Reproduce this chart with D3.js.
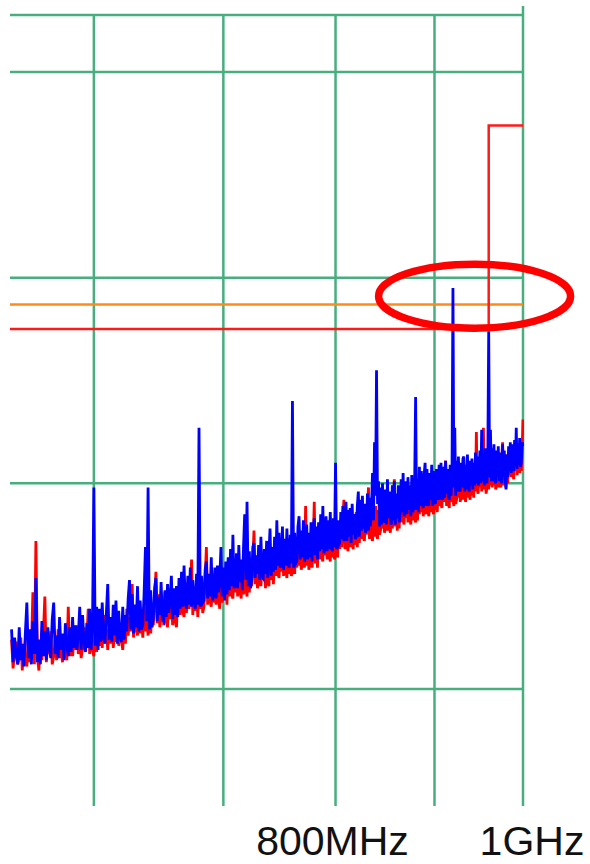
<!DOCTYPE html>
<html>
<head>
<meta charset="utf-8">
<script src="https://cdn.jsdelivr.net/npm/d3@7"></script>
<style>
  html, body { margin: 0; padding: 0; background: #ffffff; }
  svg { display: block; }
</style>
</head>
<body>
<svg id="chart" width="590" height="864"></svg>
<script>
// Frequency grid (MHz) and level grid (dBuV)
const gridFreqs = [600, 700, 800, 900, 1000];
const gridLevels = [20, 30, 40, 50];
const tickFreqs = [800, 1000];
const tickTexts = ["800MHz", "1GHz"];

// Limit line (red) and margin line (orange)
const limitFreqs = [543, 960, 960, 1000];
const limitLevels = [37.5, 37.5, 47.4, 47.4];
const marginFreqs = [543, 1000];
const marginLevels = [38.7, 38.7];

// Sweep: 544 MHz .. 1000 MHz in 1 MHz steps
const sweepStart = 544;
const sweepStep = 1;

// Measured trace (blue), dBuV per sweep point, 20 points per row
const blueTrace = [
  22.9, 21.3, 22.5, 21.6, 21.2, 23.0, 21.4, 22.2, 21.1, 22.7, 24.2, 21.5, 22.9, 21.2, 23.3, 21.7, 25.4, 21.3, 22.4, 21.2,
  23.3, 21.6, 22.8, 21.4, 23.0, 22.0, 21.5, 23.4, 24.2, 21.7, 22.6, 21.5, 23.5, 21.9, 22.7, 21.4, 23.2, 22.1, 21.6, 23.0,
  21.8, 23.5, 22.0, 23.1, 21.9, 22.6, 24.0, 21.9, 23.6, 22.3, 21.8, 23.2, 22.0, 23.9, 21.9, 22.9, 29.8, 22.1, 24.0, 21.9,
  23.9, 22.3, 24.2, 22.5, 22.2, 23.7, 25.1, 22.4, 23.5, 22.3, 24.1, 22.6, 24.3, 22.2, 23.8, 22.5, 22.3, 24.0, 22.4, 23.6,
  22.8, 24.4, 25.3, 22.9, 24.6, 22.7, 24.1, 23.0, 25.0, 22.8, 24.3, 22.9, 23.1, 24.7, 26.9, 23.3, 29.8, 22.9, 24.8, 23.0,
  23.4, 24.9, 25.4, 23.3, 24.5, 23.6, 25.2, 23.4, 23.3, 24.8, 23.5, 25.1, 23.7, 24.4, 25.5, 23.4, 24.9, 23.6, 25.0, 23.5,
  25.4, 23.9, 25.7, 24.0, 26.0, 24.2, 23.9, 25.5, 24.1, 25.9, 24.0, 25.3, 24.3, 23.9, 25.6, 24.1, 32.7, 24.0, 25.5, 24.2,
  24.3, 25.8, 26.2, 24.4, 25.6, 24.5, 26.4, 24.3, 24.6, 25.9, 24.4, 26.0, 24.7, 25.4, 26.9, 24.5, 25.9, 24.3, 26.2, 24.6,
  26.4, 24.8, 26.8, 25.0, 27.5, 24.9, 25.1, 26.6, 24.9, 27.0, 25.2, 26.3, 24.8, 26.9, 28.5, 25.3, 29.1, 25.0, 26.7, 24.9,
  25.3, 26.9, 27.1, 25.4, 26.5, 25.6, 27.0, 25.3, 27.4, 25.5, 25.4, 26.8, 25.6, 27.2, 25.4, 26.6, 27.8, 25.5, 26.9, 25.7,
  27.4, 25.8, 28.2, 26.0, 27.6, 25.9, 26.1, 27.9, 25.8, 27.3, 26.0, 27.8, 26.2, 25.9, 27.5, 26.1, 34.0, 25.9, 27.6, 26.1,
  26.2, 27.9, 28.4, 26.3, 27.7, 26.4, 28.2, 26.2, 26.5, 28.0, 26.3, 27.6, 26.4, 28.1, 26.2, 27.8, 28.3, 26.5, 27.9, 26.3,
  28.1, 26.7, 28.5, 26.8, 28.9, 26.6, 26.9, 28.4, 26.7, 28.2, 26.8, 28.6, 27.0, 26.7, 28.3, 26.9, 31.0, 26.8, 28.2, 27.0,
  27.1, 28.6, 27.3, 28.9, 27.2, 27.4, 29.1, 27.2, 28.7, 27.4, 28.8, 27.1, 29.0, 27.5, 28.5, 27.3, 27.4, 28.9, 29.6, 27.4,
  29.2, 27.7, 29.4, 27.8, 29.0, 27.6, 27.9, 29.5, 27.7, 29.3, 27.9, 28.9, 30.5, 28.2, 32.0, 29.4, 35.5, 29.0, 30.1, 27.9,
  29.8, 28.0, 30.0, 28.1, 28.2, 29.7, 28.0, 30.2, 28.3, 29.6, 28.1, 28.0, 29.9, 28.2, 30.1, 28.0, 29.5, 28.3, 29.9, 28.1,
  28.5, 30.2, 28.6, 30.5, 28.4, 28.7, 30.1, 28.5, 30.3, 28.7, 29.9, 28.4, 30.4, 28.6, 28.8, 30.0, 34.2, 28.7, 30.2, 28.6,
  30.8, 28.9, 30.6, 29.0, 28.8, 30.4, 31.0, 28.9, 30.7, 29.1, 28.9, 30.5, 29.2, 30.9, 28.9, 30.6, 29.1, 29.0, 30.7, 29.2,
  29.3, 30.9, 29.2, 31.0, 29.4, 29.2, 30.8, 29.3, 31.1, 29.5, 30.7, 29.3, 29.2, 30.9, 29.4, 30.8, 39.5, 29.8, 32.7, 29.4,
  31.1, 29.6, 31.3, 29.7, 29.6, 31.0, 29.8, 31.2, 31.3, 29.6, 30.9, 29.7, 31.4, 29.8, 29.6, 31.1, 29.9, 31.2, 29.7, 31.0,
  29.9, 31.5, 30.0, 31.3, 29.9, 30.1, 31.6, 30.0, 32.6, 30.1, 31.4, 29.9, 31.7, 30.2, 30.0, 31.5, 37.4, 30.3, 32.6, 30.1,
  31.7, 30.1, 31.9, 30.2, 30.0, 31.6, 30.3, 31.8, 30.1, 31.5, 30.2, 30.0, 31.9, 30.3, 31.6, 30.2, 29.7, 31.4, 30.3, 31.8,
  30.6, 32.0, 30.5, 31.9, 30.7, 30.6, 32.1, 30.8, 32.7, 30.7, 31.9, 30.9, 32.2, 30.8, 31.0, 32.0, 31.8
];

// Reference trace (red), dBuV per sweep point, 20 points per row
const redTrace = [
  22.4, 21.0, 21.8, 22.3, 21.2, 21.5, 22.5, 20.9, 22.1, 21.4, 21.1, 22.6, 21.3, 22.0, 24.7, 21.2, 27.2, 21.6, 20.9, 22.2,
  21.4, 22.7, 24.5, 21.3, 22.2, 21.7, 22.8, 21.2, 21.6, 22.4, 21.4, 22.9, 21.5, 22.1, 21.3, 22.6, 21.8, 21.4, 24.0, 21.6,
  22.9, 21.6, 22.4, 21.9, 23.1, 21.7, 22.6, 21.5, 22.0, 23.0, 21.8, 22.5, 23.9, 21.7, 22.8, 21.9, 21.6, 23.1, 21.8, 22.7,
  22.1, 23.4, 22.0, 23.6, 22.4, 22.9, 21.9, 23.3, 22.2, 23.5, 22.0, 22.7, 22.3, 23.6, 22.1, 23.2, 22.4, 21.9, 23.4, 22.2,
  23.9, 22.6, 23.5, 22.8, 25.1, 22.5, 23.8, 22.9, 22.6, 24.1, 22.7, 23.6, 22.5, 24.0, 22.8, 23.4, 22.6, 24.2, 22.7, 23.7,
  23.1, 24.4, 25.7, 23.2, 24.6, 23.0, 23.5, 24.3, 23.1, 24.7, 23.3, 23.0, 24.5, 23.4, 24.2, 23.1, 24.8, 23.3, 23.0, 24.4,
  24.9, 23.6, 25.1, 23.8, 23.5, 24.7, 23.7, 25.2, 23.9, 24.6, 26.3, 23.6, 24.9, 23.8, 25.0, 23.5, 24.8, 23.9, 25.2, 23.7,
  24.0, 25.4, 26.9, 24.1, 25.5, 24.3, 24.0, 25.3, 24.2, 25.6, 24.1, 25.1, 24.4, 23.9, 25.7, 24.2, 25.3, 24.4, 25.5, 24.1,
  25.9, 24.5, 26.1, 24.6, 24.4, 25.8, 24.7, 26.2, 24.5, 25.6, 24.8, 24.4, 26.0, 24.6, 25.7, 24.9, 24.5, 26.1, 24.7, 25.8,
  25.0, 26.3, 27.7, 25.1, 26.4, 24.9, 25.2, 26.6, 25.0, 26.2, 25.3, 26.7, 24.9, 26.3, 25.2, 25.0, 26.5, 25.3, 26.4, 25.1,
  26.8, 25.5, 27.1, 25.6, 25.4, 26.9, 25.7, 27.2, 25.5, 26.6, 25.8, 25.4, 27.0, 25.6, 26.8, 25.5, 25.7, 27.1, 25.6, 26.9,
  25.9, 27.3, 26.0, 27.5, 25.8, 26.1, 27.2, 25.9, 28.9, 26.0, 27.4, 25.8, 26.2, 27.3, 25.9, 27.0, 29.1, 26.1, 27.4, 25.9,
  27.7, 26.3, 27.9, 26.4, 26.2, 27.6, 26.5, 28.0, 26.3, 27.5, 26.6, 26.2, 27.8, 26.4, 27.9, 26.3, 26.5, 27.7, 26.4, 28.0,
  26.8, 28.2, 26.9, 28.4, 29.2, 26.8, 28.3, 27.0, 26.7, 28.5, 26.9, 28.1, 27.1, 26.8, 28.4, 27.0, 28.6, 26.9, 28.2, 27.1,
  28.6, 27.3, 28.8, 27.4, 27.2, 28.7, 27.5, 28.9, 29.8, 27.3, 28.6, 27.5, 27.2, 28.8, 27.4, 28.9, 27.6, 27.3, 28.7, 27.5,
  27.7, 29.1, 27.8, 29.3, 27.6, 27.9, 29.0, 27.7, 29.2, 27.9, 27.6, 29.1, 27.8, 29.3, 30.2, 27.9, 29.0, 27.7, 29.2, 27.8,
  29.5, 28.1, 29.7, 28.2, 28.0, 29.4, 28.3, 29.8, 28.1, 29.3, 28.4, 28.0, 29.6, 28.2, 29.7, 28.3, 28.1, 29.5, 28.2, 29.8,
  28.5, 29.9, 28.6, 30.1, 28.4, 28.7, 29.8, 28.5, 30.2, 28.7, 28.4, 29.9, 28.6, 30.1, 28.8, 28.5, 30.0, 28.7, 29.9, 28.6,
  30.2, 28.9, 30.4, 29.0, 28.8, 30.3, 29.1, 30.5, 31.1, 28.9, 30.3, 29.0, 28.8, 30.6, 29.1, 30.2, 29.2, 28.9, 30.4, 29.0,
  29.2, 30.6, 29.3, 30.8, 29.1, 29.4, 30.5, 29.2, 30.9, 29.4, 29.1, 30.7, 29.3, 30.8, 29.5, 29.2, 30.6, 29.4, 30.7, 29.3,
  30.9, 29.6, 32.5, 29.7, 29.5, 30.8, 29.8, 31.0, 29.6, 30.7, 32.7, 29.7, 30.9, 29.5, 29.8, 31.0, 29.7, 30.8, 29.9, 30.9,
  29.8, 31.2, 29.9, 31.3, 29.7, 30.0, 31.1, 29.8, 31.4, 30.0, 29.8, 31.2, 32.0, 29.9, 31.3, 30.1, 29.8, 31.4, 30.0, 31.2,
  30.4, 31.6, 30.3, 31.7, 30.5, 30.2, 31.5, 30.6, 31.8, 30.4, 31.6, 30.7, 30.5, 31.9, 30.6, 31.7, 33.1
];

// Highlight around the emissions near the limit
const highlightFreq = 944;
const highlightLevel = 39.1;

// ---- layout ----
const plotLeft = 10, plotRight = 523, plotTop = 15, plotBottom = 806;
const frameTop = 6;

const svg = d3.select("#chart");
svg.append("rect").attr("width", 590).attr("height", 864).attr("fill", "#ffffff");

const x = d3.scaleLog().domain([543, 1000]).range([plotLeft, plotRight]);
const y = d3.scaleLinear().domain([20, 50]).range([689, 72]);

const gridColor = "#48ae7f";

// clip for traces
svg.append("defs").append("clipPath").attr("id", "plotClip")
  .append("rect")
  .attr("x", plotLeft).attr("y", 0)
  .attr("width", plotRight - plotLeft + 1).attr("height", plotBottom);

const grid = svg.append("g").attr("class", "grid");

// horizontal grid lines + top border
grid.selectAll("line.h")
  .data(gridLevels)
  .join("line")
  .attr("class", "h")
  .attr("x1", plotLeft).attr("x2", plotRight)
  .attr("y1", d => y(d)).attr("y2", d => y(d))
  .attr("stroke", gridColor).attr("stroke-width", 2.5);

grid.append("line")
  .attr("x1", plotLeft).attr("x2", plotRight)
  .attr("y1", plotTop).attr("y2", plotTop)
  .attr("stroke", gridColor).attr("stroke-width", 2.5);

// vertical grid lines
grid.selectAll("line.v")
  .data(gridFreqs)
  .join("line")
  .attr("class", "v")
  .attr("x1", d => x(d)).attr("x2", d => x(d))
  .attr("y1", d => d === 1000 ? frameTop : plotTop)
  .attr("y2", plotBottom)
  .attr("stroke", gridColor).attr("stroke-width", 2.5);

// limit and margin lines
const stepLine = d3.line().x(d => x(d[0])).y(d => y(d[1]));

svg.append("path")
  .datum(marginFreqs.map((f, i) => [f, marginLevels[i]]))
  .attr("d", stepLine)
  .attr("fill", "none")
  .attr("stroke", "#ff8a1c")
  .attr("stroke-width", 2.5);

svg.append("path")
  .datum(limitFreqs.map((f, i) => [f, limitLevels[i]]))
  .attr("d", stepLine)
  .attr("fill", "none")
  .attr("stroke", "#ff1a1a")
  .attr("stroke-width", 2.5);

// traces
const sweep = arr => arr.map((v, i) => [sweepStart + i * sweepStep, v]);
const traceLine = d3.line()
  .x(d => x(d[0]))
  .y(d => y(d[1]));

const traces = svg.append("g").attr("clip-path", "url(#plotClip)");

traces.append("path")
  .datum(sweep(redTrace))
  .attr("d", traceLine)
  .attr("fill", "none")
  .attr("stroke", "#ff0000")
  .attr("stroke-width", 2.8);

traces.append("path")
  .datum(sweep(blueTrace))
  .attr("d", traceLine)
  .attr("fill", "none")
  .attr("stroke", "#0000ff")
  .attr("stroke-width", 2.8);

// highlight ellipse
svg.append("ellipse")
  .attr("cx", x(highlightFreq))
  .attr("cy", y(highlightLevel))
  .attr("rx", 96)
  .attr("ry", 32)
  .attr("fill", "none")
  .attr("stroke", "#ff0000")
  .attr("stroke-width", 7.5);

// frequency labels
const labelOffsets = [-3, 9];
svg.selectAll("text.tick")
  .data(tickFreqs)
  .join("text")
  .attr("class", "tick")
  .attr("x", (d, i) => x(d) + labelOffsets[i])
  .attr("y", 855)
  .attr("text-anchor", "middle")
  .attr("font-family", "'Liberation Sans', Arial, sans-serif")
  .attr("font-size", 41)
  .attr("fill", "#111111")
  .text((d, i) => tickTexts[i]);
</script>
</body>
</html>
